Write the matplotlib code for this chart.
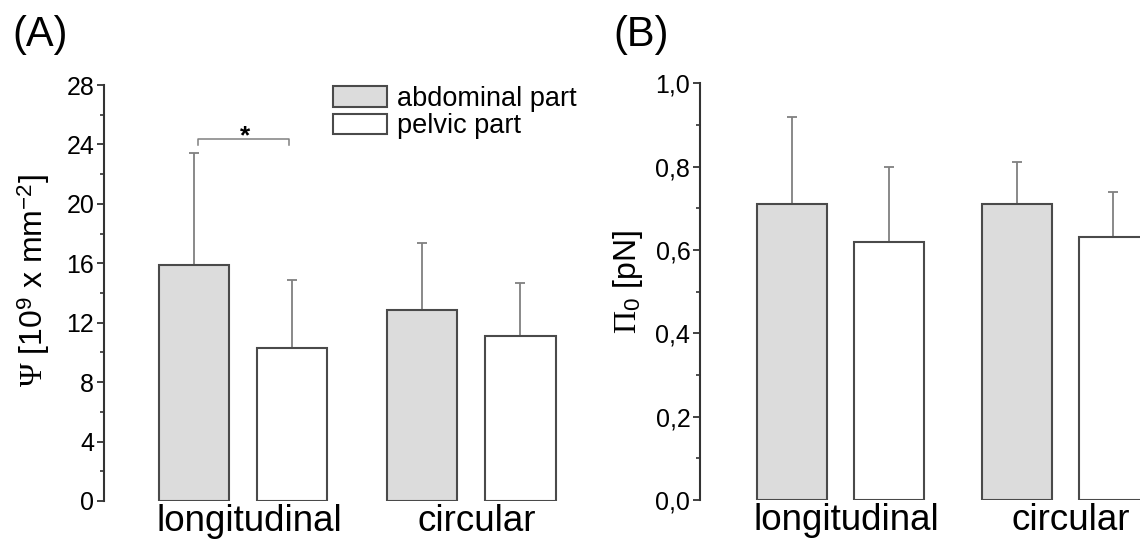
import matplotlib
matplotlib.use('Agg')
import matplotlib.pyplot as plt
import matplotlib.transforms as mtrans
from matplotlib.patches import Patch
from matplotlib.ticker import MultipleLocator, FixedLocator

plt.rcParams['font.family'] = ['Liberation Sans', 'DejaVu Sans']
plt.rcParams['mathtext.fontset'] = 'custom'
plt.rcParams['mathtext.rm'] = 'Liberation Serif'
plt.rcParams['mathtext.it'] = 'Liberation Serif:italic'
plt.rcParams['mathtext.sf'] = 'Liberation Sans'

# data
groups = ['longitudinal', 'circular']
series = ['abdominal part', 'pelvic part']

psi_abd = [15.9, 12.85]
psi_abd_err = [7.55, 4.5]
psi_pel = [10.27, 11.1]
psi_pel_err = [4.6, 3.6]

pi_abd = [0.71, 0.71]
pi_abd_err = [0.21, 0.10]
pi_pel = [0.62, 0.63]
pi_pel_err = [0.18, 0.11]

psi_ticks = [0, 4, 8, 12, 16, 20, 24, 28]
pi_ticks = [0.0, 0.2, 0.4, 0.6, 0.8, 1.0]
pi_ticklabels = ['0,0', '0,2', '0,4', '0,6', '0,8', '1,0']

W, H = 1140, 539
fig = plt.figure(figsize=(W / 100, H / 100), dpi=100)

FILL = '#dcdcdc'
EDGE = '#4a4a4a'
ERR = '#808080'
AXC = '#333333'
off = 0.215
bw = 0.31
xs = [0, 1]


def px(x0, y_top, x1, y_bot):
    return [x0 / W, 1 - y_bot / H, (x1 - x0) / W, (y_bot - y_top) / H]


def draw_panel(ax, abd, abd_err, pel, pel_err):
    for vals, errs, sign, col in [(abd, abd_err, -1, FILL), (pel, pel_err, 1, 'white')]:
        pos = [x + sign * off for x in xs]
        ax.bar(pos, vals, width=bw, color=col, edgecolor=EDGE, linewidth=1.5, zorder=2)
        ax.errorbar(pos, vals, yerr=[[0] * len(vals), errs], fmt='none',
                    ecolor=ERR, elinewidth=1.3, capsize=3.5, capthick=1.3, zorder=1)
    for s in ['top', 'right', 'bottom']:
        ax.spines[s].set_visible(False)
    ax.spines['left'].set_color(AXC)
    ax.spines['left'].set_linewidth(1.5)
    ax.tick_params(axis='y', which='major', direction='out', length=5, width=1.3,
                   color=AXC, labelsize=18, pad=2)
    ax.tick_params(axis='y', which='minor', direction='out', length=3, width=1.2, color=AXC)
    ax.set_xticks(xs)
    ax.set_xticklabels(groups, fontsize=26.5)
    ax.tick_params(axis='x', length=0, pad=2)
    # category labels sit a little right of the group centre in the original
    shift = mtrans.ScaledTranslation(6 / 100, 0, fig.dpi_scale_trans)
    for lab in ax.get_xticklabels():
        lab.set_transform(lab.get_transform() + shift)


# panel A
axA = fig.add_axes(px(104, 85, 608, 501))
draw_panel(axA, psi_abd, psi_abd_err, psi_pel, psi_pel_err)
axA.set_xlim(-0.61, 1.6)
axA.set_ylim(0, 28)
axA.yaxis.set_major_locator(FixedLocator(psi_ticks))
axA.yaxis.set_minor_locator(MultipleLocator(2))

# significance bracket
axA.plot([-0.2, -0.2, 0.2, 0.2], [23.95, 24.36, 24.36, 23.95], color=ERR, lw=1.1)
axA.text(0.01, 23.75, '*', ha='center', va='bottom', fontsize=19, fontweight='bold')

handles = [Patch(facecolor=FILL, edgecolor=EDGE, linewidth=1.5),
           Patch(facecolor='white', edgecolor=EDGE, linewidth=1.5)]
axA.legend(handles, series, loc='upper left', bbox_to_anchor=(333 / W, 1 - 86 / H),
           bbox_transform=fig.transFigure, frameon=False, fontsize=19.5,
           handlelength=2.0, handleheight=0.78, handletextpad=0.35,
           labelspacing=0.05, borderpad=0, borderaxespad=0)

# panel B
axB = fig.add_axes(px(700, 83.3, 1200, 500))
draw_panel(axB, pi_abd, pi_abd_err, pi_pel, pi_pel_err)
axB.set_xlim(-0.625, 1.6)
axB.set_ylim(0, 1.0)
axB.yaxis.set_major_locator(FixedLocator(pi_ticks))
axB.set_yticklabels(pi_ticklabels)
axB.yaxis.set_minor_locator(MultipleLocator(0.1))

fig.text(34 / W, 1 - 281 / H, r'$\Psi$ [10$^{\mathsf{9}}$ x mm$^{\mathsf{-2}}$]',
         rotation=90, ha='center', va='center', fontsize=23)
fig.text(628 / W, 1 - 282 / H, r'$\Pi_{\mathsf{0}}$ [pN]',
         rotation=90, ha='center', va='center', fontsize=23)

fig.text(12 / W, 1 - 15 / H, '(A)', ha='left', va='top', fontsize=30)
fig.text(613 / W, 1 - 15 / H, '(B)', ha='left', va='top', fontsize=30)

fig.savefig('out.png', dpi=100)
